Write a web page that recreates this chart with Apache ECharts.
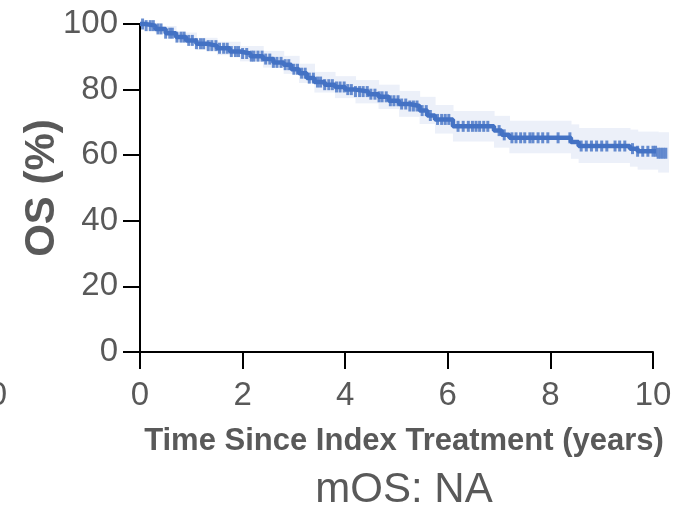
<!DOCTYPE html>
<html>
<head>
<meta charset="utf-8">
<script src="https://cdn.jsdelivr.net/npm/echarts@6/dist/echarts.min.js"></script>
<style>html,body{margin:0;padding:0;background:#fff}#c{width:678px;height:506px}</style>
</head>
<body>
<div id="c"></div>
<script>
// KM step events (time in years, survival %)
const eventTimes = [0, 0.1, 0.3, 0.5, 0.7, 0.9, 1.1, 1.3, 1.5, 1.75, 1.95, 2.15, 2.4, 2.6, 2.8, 2.95, 3.1, 3.25, 3.4, 3.6, 3.8, 4.0, 4.2, 4.45, 4.65, 4.85, 5.05, 5.25, 5.45, 5.6, 5.75, 6.1, 6.9, 7.05, 7.2, 8.4, 8.55, 9.55, 9.7, 10.1, 10.3];
const eventSurv  = [100, 99.5, 98.5, 97.2, 96.0, 95.0, 94.0, 93.4, 92.6, 91.6, 91.0, 90.2, 89.3, 88.3, 87.6, 86.2, 85.0, 83.5, 82.3, 81.5, 80.8, 80.0, 79.4, 78.6, 77.8, 76.6, 75.6, 75.0, 73.6, 72.1, 70.9, 68.8, 67.5, 66.2, 65.3, 64.0, 62.8, 62.0, 61.2, 60.6, 60.4];
// censor mark times (years)
const censorTimes = [0.05,0.12,0.2,0.26,0.35,0.41,0.5,0.58,0.63,0.72,0.8,0.86,0.95,1.02,1.1,1.18,1.24,1.33,1.4,1.48,1.55,1.63,1.7,1.78,1.86,1.92,2.0,2.08,2.17,2.22,2.3,2.38,2.45,2.53,2.6,2.67,2.75,2.83,2.9,3.0,3.07,3.15,3.22,3.3,3.38,3.46,3.52,3.6,3.68,3.75,3.83,3.9,3.98,4.05,4.12,4.2,4.28,4.35,4.43,4.5,4.58,4.66,4.72,4.8,4.88,4.95,5.03,5.1,5.18,5.26,5.33,5.4,5.5,5.58,5.66,5.8,5.88,5.95,6.02,6.2,6.3,6.4,6.48,6.55,6.62,6.7,6.78,7.0,7.1,7.25,7.33,7.42,7.5,7.6,7.66,7.76,7.85,7.95,8.15,8.38,8.6,8.7,8.8,8.9,9.0,9.1,9.26,9.35,9.45,9.6,9.7,9.8,9.9,10.0,10.05,10.1,10.15,10.2,10.25];
// confidence band (step)
const ciTimes = [0, 0.3, 0.7, 1.1, 1.5, 1.95, 2.4, 2.8, 3.1, 3.4, 3.8, 4.2, 4.65, 5.05, 5.45, 5.75, 6.1, 6.9, 7.2, 8.4, 8.55, 9.55, 9.7, 10.1, 10.3];
const ciUpper = [100, 99.4, 97.4, 95.8, 94.6, 93.3, 91.8, 90.3, 87.9, 85.4, 84.1, 82.9, 81.5, 79.6, 77.8, 75.3, 73.5, 72.0, 70.5, 69.4, 68.3, 67.8, 67.2, 67.0, 67.0];
const ciLower = [100, 97.4, 94.5, 92.1, 90.5, 88.6, 86.7, 84.8, 82.0, 79.1, 77.4, 75.8, 74.1, 71.7, 69.5, 66.6, 64.2, 62.3, 60.6, 58.9, 57.6, 56.5, 55.6, 54.7, 54.5];
const xTicks = [0, 2, 4, 6, 8, 10];
const yTicks = [0, 20, 40, 60, 80, 100];

function survAt(t){ let s = eventSurv[0]; for (let i=0;i<eventTimes.length;i++){ if (eventTimes[i] <= t) s = eventSurv[i]; } return s; }

const BLUE = '#4472C4';
const GREY = '#595959';
const bandData = [];
for (let i = 0; i < ciTimes.length - 1; i++) bandData.push([ciTimes[i], ciTimes[i+1], ciLower[i], ciUpper[i]]);

const chart = echarts.init(document.getElementById('c'));
chart.setOption({
  animation: false,
  grid: { left: 140, right: 25, top: 24, bottom: 154, containLabel: false },
  xAxis: {
    type: 'value', min: xTicks[0], max: xTicks[xTicks.length-1], interval: 2,
    axisLine: { show: true, onZero: false, lineStyle: { color: '#000', width: 2 } },
    axisTick: { show: true, length: 17, lineStyle: { color: '#000', width: 2 } },
    axisLabel: { margin: 27, fontSize: 33, color: GREY, fontFamily: 'Liberation Sans' },
    splitLine: { show: false }
  },
  yAxis: {
    type: 'value', min: yTicks[0], max: yTicks[yTicks.length-1], interval: 20,
    axisLine: { show: true, lineStyle: { color: '#000', width: 2 } },
    axisTick: { show: true, length: 17, lineStyle: { color: '#000', width: 2 } },
    axisLabel: { margin: 22, fontSize: 33, color: GREY, fontFamily: 'Liberation Sans' },
    splitLine: { show: false }
  },
  series: [
    { type: 'custom', silent: true, clip: false, z: 1,
      encode: { x: [0, 1], y: [2, 3] },
      renderItem: function (params, api) {
        const p0 = api.coord([api.value(0), api.value(3)]);
        const p1 = api.coord([api.value(1), api.value(2)]);
        return { type: 'rect',
          shape: { x: p0[0], y: p0[1], width: p1[0] - p0[0] + 0.6, height: p1[1] - p0[1] },
          style: { fill: '#ECF0F9' } };
      },
      data: bandData },
    { type: 'line', step: 'end', symbol: 'none', clip: false, z: 3,
      lineStyle: { color: BLUE, width: 4.5 }, data: eventTimes.map((t,i)=>[t, eventSurv[i]]) },
    { type: 'scatter', symbol: 'rect', symbolSize: [3, 11], clip: false, z: 4,
      itemStyle: { color: BLUE }, data: censorTimes.map(t=>[t, survAt(t)]) }
  ],
  graphic: [
    { type: 'text', x: 42, y: 188, rotation: Math.PI/2,
      style: { text: 'OS (%)', font: 'bold 42px "Liberation Sans"', fill: GREY, align: 'center', verticalAlign: 'middle' } },
    { type: 'text', x: 404, y: 441,
      style: { text: 'Time Since Index Treatment (years)', font: 'bold 31px "Liberation Sans"', fill: GREY, align: 'center', verticalAlign: 'middle' } },
    { type: 'text', x: 404, y: 490,
      style: { text: 'mOS: NA', font: '42px "Liberation Sans"', fill: GREY, align: 'center', verticalAlign: 'middle' } },
    { type: 'text', x: 7, y: 396,
      style: { text: '10', font: '33px "Liberation Sans"', fill: GREY, align: 'right', verticalAlign: 'middle' } }
  ]
});
</script>
</body>
</html>
